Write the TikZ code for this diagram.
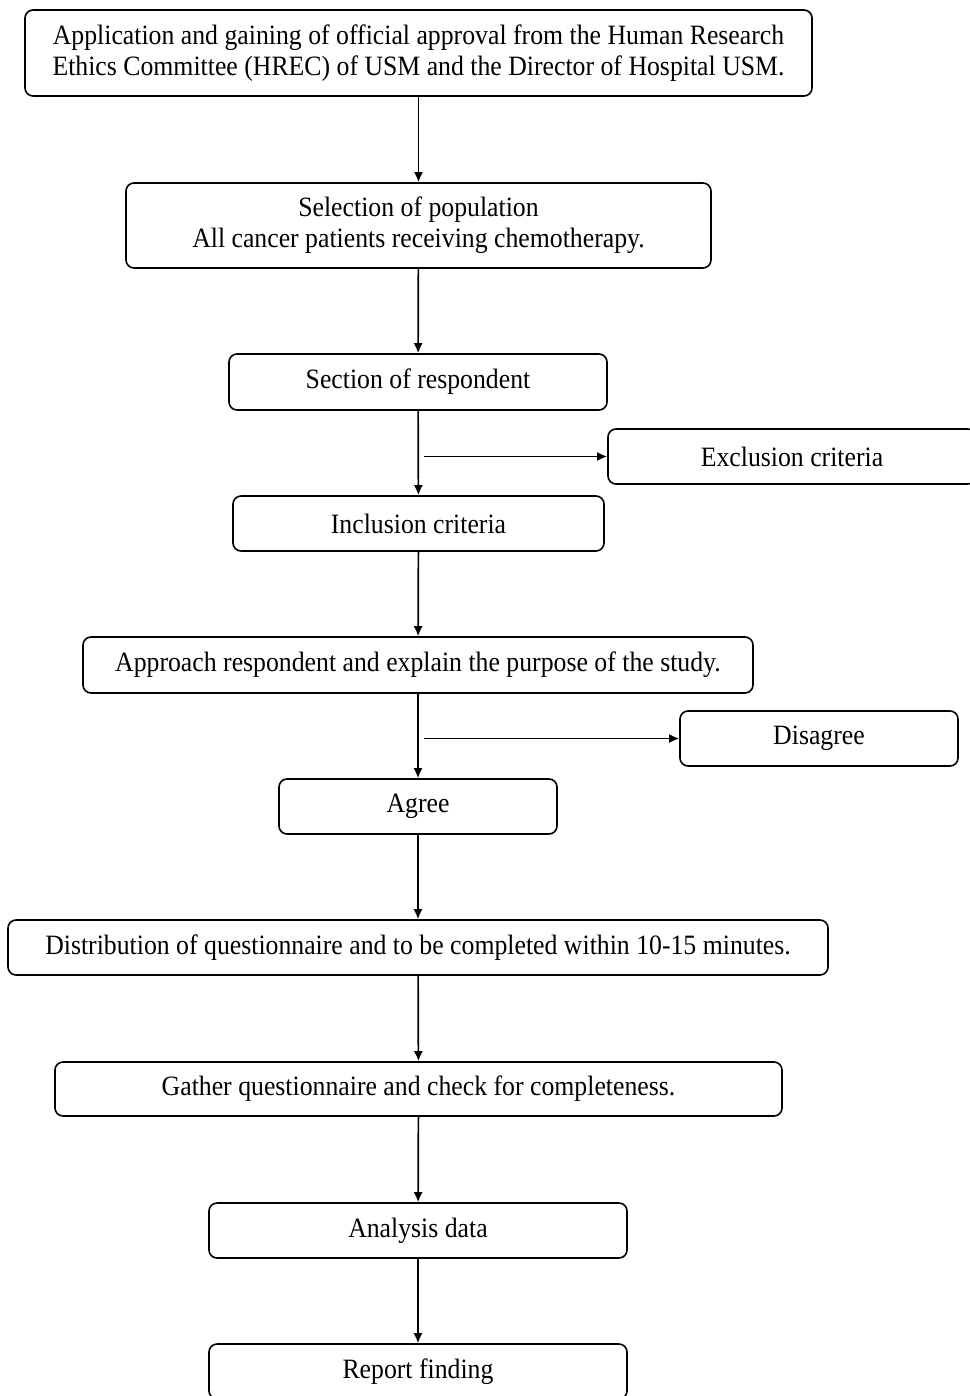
\documentclass[tikz,border=0pt]{standalone}
\usepackage{fontspec}
\setmainfont{Liberation Serif}[FakeStretch=0.92]
\usetikzlibrary{arrows.meta}

\tikzset{
	box/.style={draw, rounded corners=4pt, line width=0.8pt, align=center, inner sep=0pt},
	flow/.style={-{Latex[length=5pt,width=4.5pt]}, line width=0.85pt}
}

\begin{document}
\begin{tikzpicture}[x=0.5pt, y=-0.5pt, font=\fontsize{14}{15.5}\selectfont]
	\useasboundingbox (0,0) rectangle (969,1396);

	\node[box, minimum width=393.5pt, minimum height=43pt] (approval) at (418.5,53) {Application and gaining of official approval from the Human Research\\Ethics Committee (HREC) of USM and the Director of Hospital USM.};
	\node[box, minimum width=292.5pt, minimum height=42.5pt] (population) at (418.5,225.5) {Selection of population\\All cancer patients receiving chemotherapy.};
	\node[box, minimum width=189pt, minimum height=28pt] (respondent) at (418,382) {Section of respondent};
	\node[box, minimum width=184pt, minimum height=27.5pt] (exclusion) at (792,456.5) {Exclusion criteria};
	\node[box, minimum width=185.5pt, minimum height=27.5pt] (inclusion) at (418.5,523.5) {Inclusion criteria};
	\node[box, minimum width=335pt, minimum height=28pt] (approach) at (418,665) {Approach respondent and explain the purpose of the study.};
	\node[box, minimum width=139pt, minimum height=27.5pt] (disagree) at (819,738.5) {Disagree};
	\node[box, minimum width=139pt, minimum height=27.5pt] (agree) at (418,806.5) {Agree};
	\node[box, minimum width=410pt, minimum height=27.5pt] (distribution) at (418,947.5) {Distribution of questionnaire and to be completed within 10-15 minutes.};
	\node[box, minimum width=363.5pt, minimum height=27pt] (gather) at (418.5,1089) {Gather questionnaire and check for completeness.};
	\node[box, minimum width=209pt, minimum height=27.5pt] (analysis) at (418,1230.5) {Analysis data};
	\node[box, minimum width=209pt, minimum height=27.5pt] (report) at (418,1371.5) {Report finding};

	\coordinate (exclbranch) at (424,456.5);
	\coordinate (disbranch) at (424,738.5);

	\draw[flow] (approval) -- (population);
	\draw[flow] (population) -- (respondent);
	\draw[flow] (respondent) -- (inclusion);
	\draw[flow] (exclbranch) -- (exclusion);
	\draw[flow] (inclusion) -- (approach);
	\draw[flow] (approach) -- (agree);
	\draw[flow] (disbranch) -- (disagree);
	\draw[flow] (agree) -- (distribution);
	\draw[flow] (distribution) -- (gather);
	\draw[flow] (gather) -- (analysis);
	\draw[flow] (analysis) -- (report);

\end{tikzpicture}
\end{document}
